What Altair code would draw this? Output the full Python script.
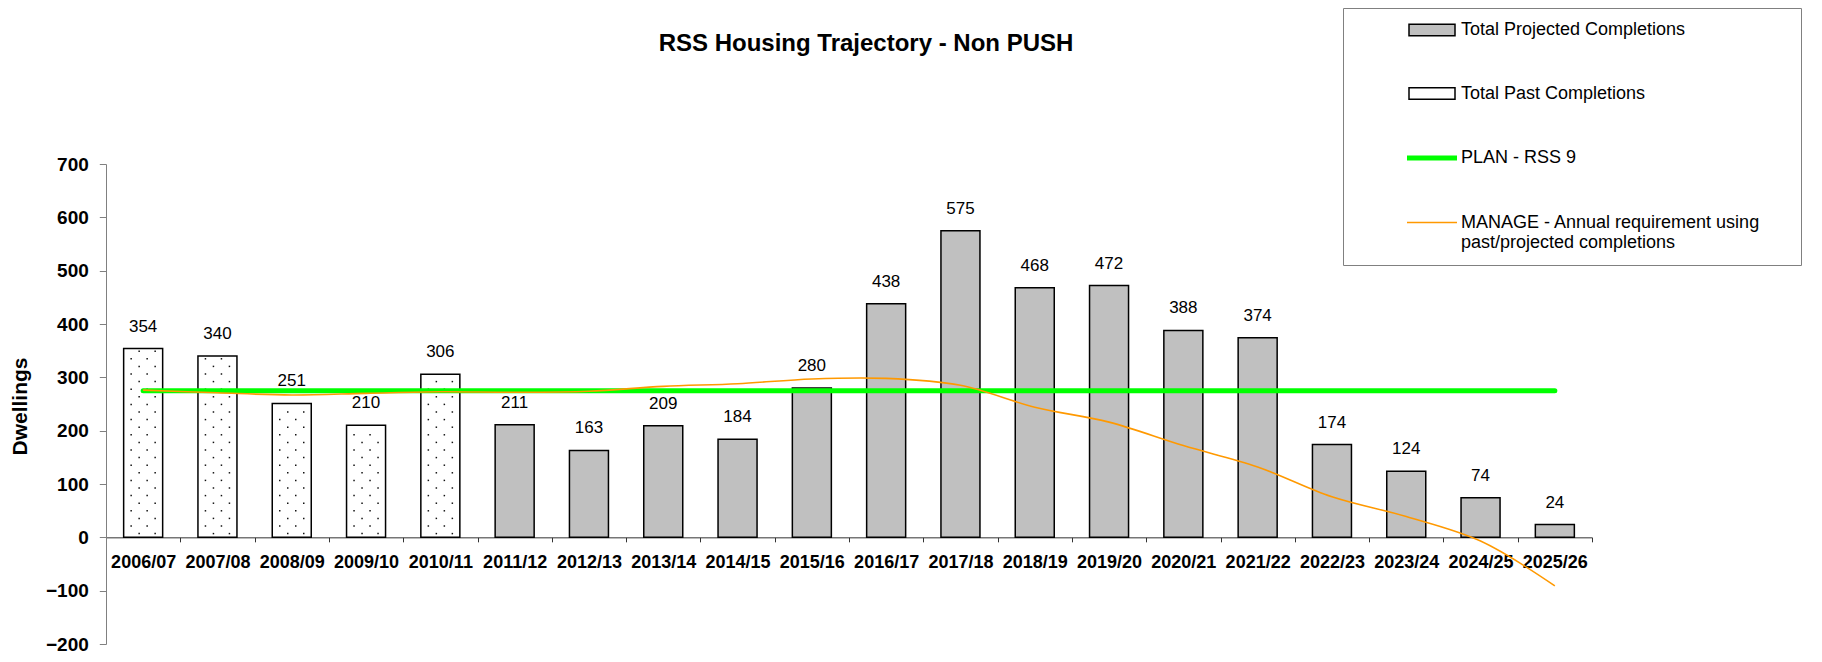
import altair as alt
import pandas as pd

years = ["2006/07", "2007/08", "2008/09", "2009/10", "2010/11", "2011/12", "2012/13",
         "2013/14", "2014/15", "2015/16", "2016/17", "2017/18", "2018/19", "2019/20",
         "2020/21", "2021/22", "2022/23", "2023/24", "2024/25", "2025/26"]
completions = [354, 340, 251, 210, 306, 211, 163, 209, 184, 280, 438, 575, 468, 472,
               388, 374, 174, 124, 74, 24]
series = ["Total Past Completions"] * 5 + ["Total Projected Completions"] * 15
plan = [275] * 20
manage = [276, 271, 267, 270, 273, 272, 274, 283, 288, 297, 298, 285, 244, 216,
          172, 132, 76, 39, -7, -91]
legend_order = ["Total Projected Completions", "Total Past Completions", "PLAN - RSS 9",
                "MANAGE - Annual requirement using past/projected completions"]
legend_fills = ["#c0c0c0", "#ffffff", "transparent", "transparent"]
y_ticks = [-200, -100, 0, 100, 200, 300, 400, 500, 600, 700]

FONT = "Liberation Sans"
W, H = 1486, 480
YMIN, YMAX = -200, 700
PAD_TOP = 156

df = pd.DataFrame({"year": years, "value": completions, "series": series,
                   "plan": plan, "manage": manage})

# dotted texture rows for the past-completion bars (derived from bar values)
dot_rows = []
step = 14.25
for yr, v, s in zip(years, completions, series):
    if s != "Total Past Completions":
        continue
    k = 0
    pos = 7.0
    while pos <= v - 5:
        offs = [-4, 12] if k % 2 == 0 else [-12, 4]
        for o in offs:
            dot_rows.append({"year": yr, "dot": pos, "off": o})
        pos += step
        k += 1
dots = pd.DataFrame(dot_rows)

x_enc = alt.X("year:N", sort=years,
              scale=alt.Scale(paddingInner=0, paddingOuter=0),
              axis=alt.Axis(title=None, labelAngle=0, labelFont=FONT, labelFontSize=18,
                            labelFontWeight="bold", labelColor="black", labelPadding=12,
                            tickBand="extent", tickSize=4.5, tickColor="#333333",
                            domainColor="#333333", labelLimit=200,
                            offset=-(H * (0 - YMIN) / (YMAX - YMIN))))

def y_enc(field):
    return alt.Y(field, scale=alt.Scale(domain=[YMIN, YMAX], nice=False, zero=False),
                 axis=alt.Axis(title="Dwellings", values=y_ticks, grid=False,
                               labelFont=FONT, labelFontSize=19, labelFontWeight="bold",
                               labelColor="black", labelPadding=11, tickSize=6.7,
                               tickColor="#808080", domainColor="#808080",
                               titleFont=FONT, titleFontSize=21, titleFontWeight="bold",
                               titleColor="black", titleX=-86, titleY=H / 2 + 2,
                               titleAngle=270, titleAlign="center",
                               titleBaseline="middle"))

is_line = "(datum.value === 'PLAN - RSS 9' || indexof(datum.value, 'MANAGE') === 0)"
legend = alt.Legend(
    title="\u00a0", titleOrient="right", titlePadding=28, titleFontSize=18,
    titleFont=FONT,
    orient="none", legendX=1237, legendY=-PAD_TOP, direction="vertical",
    symbolSize=625, labelFont=FONT, labelFontSize=18, labelColor="black",
    labelLimit=700, labelOffset=20, symbolOffset=67, rowPadding=45.5, padding=13,
    strokeColor="#808080", fillColor="white",
    labelExpr="indexof(datum.label, 'MANAGE') === 0 ? ['MANAGE - Annual requirement using', 'past/projected completions'] : datum.label",
    symbolType={"expr": is_line + " ? 'M-2,0H2' : 'M-1.84,-0.46H1.84V0.46H-1.84Z'"},
    symbolStrokeColor={"expr": "datum.value === 'PLAN - RSS 9' ? '#00ff00' : indexof(datum.value, 'MANAGE') === 0 ? '#ff9900' : '#000000'"},
    symbolStrokeWidth={"expr": "datum.value === 'PLAN - RSS 9' ? 5 : 1.5"},
    symbolOpacity=1,
)

base = alt.Chart(df)

bars = base.mark_bar(width=alt.RelativeBandSize(0.525), stroke="black",
                     strokeWidth=1.5).encode(
    x=x_enc, y=y_enc("value:Q"),
    color=alt.Color("series:N", scale=alt.Scale(domain=legend_order, range=legend_fills),
                    legend=legend),
)

dot_layers = []
for o in sorted(dots["off"].unique()):
    dot_layers.append(
        alt.Chart(dots).transform_filter(alt.datum.off == int(o)).mark_square(
            size=2.2, color="#111111", opacity=1, xOffset=int(o)).encode(
            x=x_enc, y=y_enc("dot:Q"))
    )

labels = base.mark_text(font=FONT, fontSize=17, baseline="alphabetic", dy=-17,
                        color="black").encode(x=x_enc, y=y_enc("value:Q"),
                                              text="value:Q")

plan_line = base.mark_line(color="#00ff00", strokeWidth=5, strokeCap="round").encode(
    x=x_enc, y=y_enc("plan:Q"))

manage_line = base.mark_line(color="#ff9900", strokeWidth=1.6,
                             interpolate="catmull-rom").encode(
    x=x_enc, y=y_enc("manage:Q"))

chart = alt.layer(bars, *dot_layers, labels, plan_line, manage_line).properties(
    width=W, height=H,
    title=alt.Title("RSS Housing Trajectory - Non PUSH", font=FONT, fontSize=24,
                    fontWeight="bold", color="black", anchor="middle", frame="group",
                    dx=17, offset=-67, baseline="alphabetic"),
    autosize=alt.AutoSizeParams(type="none"),
    padding={"left": 98, "top": PAD_TOP, "right": 222, "bottom": 10},
).configure(background="white").configure_view(stroke=None)

chart.save("out.html", embed_options={"renderer": "svg", "actions": False})
